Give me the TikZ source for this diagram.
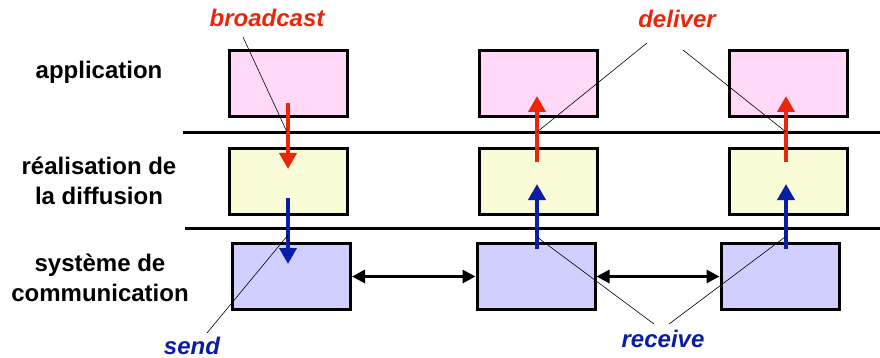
\documentclass[tikz,border=0pt]{standalone}
\usepackage{fontspec}
\setmainfont{Liberation Sans}
\usetikzlibrary{arrows.meta}
\definecolor{appfill}{RGB}{255,217,247}
\definecolor{difffill}{RGB}{249,252,214}
\definecolor{commfill}{RGB}{208,207,255}
\definecolor{redarr}{RGB}{235,38,10}
\definecolor{bluearr}{RGB}{10,30,165}
\tikzset{
  box/.style={draw=black, line width=3pt, minimum width=118pt, minimum height=66pt, inner sep=0pt},
  layertext/.style={font=\fontsize{24}{30}\selectfont\bfseries, align=center},
  redlab/.style={font=\fontsize{24}{28}\selectfont\bfseries\itshape, text=redarr},
  bluelab/.style={font=\fontsize{24}{28}\selectfont\bfseries\itshape, text=bluearr},
  redflow/.style={draw=redarr, line width=3.8pt, -{Triangle[width=17pt,length=16pt]}},
  blueflow/.style={draw=bluearr, line width=3.8pt, -{Triangle[width=17pt,length=16pt]}},
  link/.style={draw=black, line width=3pt, {Triangle[width=13pt,length=13pt]}-{Triangle[width=13pt,length=13pt]}},
  sep/.style={draw=black, line width=3pt},
  pointer/.style={draw=black, line width=0.6pt}
}
\begin{document}
\begin{tikzpicture}[x=1pt,y=-1pt]
\useasboundingbox (0,0) rectangle (880,358);
% separators
\coordinate (s1a) at (183,132.7); \coordinate (s1b) at (880,132.7);
\coordinate (s2a) at (185,228.7); \coordinate (s2b) at (880,228.7);
\draw[sep] (s1a) -- (s1b);
\draw[sep] (s2a) -- (s2b);
% boxes
\node[box, fill=appfill] (a1) at (288.5,83.5) {};
\node[box, fill=appfill] (a2) at (538.5,83.5) {};
\node[box, fill=appfill] (a3) at (788,83.5) {};
\node[box, fill=difffill] (d1) at (288.5,181.5) {};
\node[box, fill=difffill] (d2) at (538,181.5) {};
\node[box, fill=difffill] (d3) at (788,181.5) {};
\node[box, fill=commfill] (c1) at (291.5,276.5) {};
\node[box, fill=commfill] (c2) at (536,276.5) {};
\node[box, fill=commfill] (c3) at (780,276.5) {};
% layer labels
\node[layertext] (l1) at (99,72) {application};
\node[layertext] (l2) at (99,181) {réalisation de\\la diffusion};
\node[layertext] (l3) at (100,278) {système de\\communication};
% flow arrows
\coordinate (r1s) at (288,103); \coordinate (r1e) at (288,169);
\coordinate (r2s) at (537,162); \coordinate (r2e) at (537,96);
\coordinate (r3s) at (786,162); \coordinate (r3e) at (786,96);
\coordinate (b1s) at (288,198); \coordinate (b1e) at (288,264);
\coordinate (b2s) at (537,249); \coordinate (b2e) at (537,184);
\coordinate (b3s) at (786,249); \coordinate (b3e) at (786,184);
\draw[redflow] (r1s) -- (r1e);
\draw[redflow] (r2s) -- (r2e);
\draw[redflow] (r3s) -- (r3e);
\draw[blueflow] (b1s) -- (b1e);
\draw[blueflow] (b2s) -- (b2e);
\draw[blueflow] (b3s) -- (b3e);
% links
\draw[link] (c1.east) -- (c2.west);
\draw[link] (c2.east) -- (c3.west);
% labels
\node[redlab] (bc) at (267,18) {broadcast};
\node[redlab] (dl) at (677,19) {deliver};
\node[bluelab] (sd) at (192,346) {send};
\node[bluelab] (rc) at (663,339) {receive};
% pointer lines
\coordinate (pb1) at (243,37); \coordinate (pb2) at (287,132);
\coordinate (pd1) at (647,43); \coordinate (pd2) at (537,132);
\coordinate (pd3) at (683,50); \coordinate (pd4) at (786,132);
\coordinate (ps1) at (207,333); \coordinate (ps2) at (288,235);
\coordinate (pr1) at (654,324); \coordinate (pr2) at (537,237);
\coordinate (pr3) at (669,324); \coordinate (pr4) at (785,237);
\draw[pointer] (pb1) -- (pb2);
\draw[pointer] (pd1) -- (pd2);
\draw[pointer] (pd3) -- (pd4);
\draw[pointer] (ps1) -- (ps2);
\draw[pointer] (pr1) -- (pr2);
\draw[pointer] (pr3) -- (pr4);
\end{tikzpicture}
\end{document}
